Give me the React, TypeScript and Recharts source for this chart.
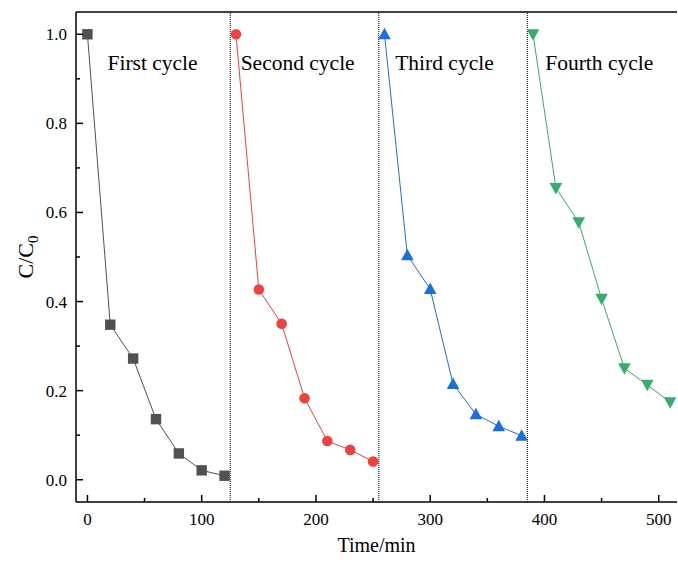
import React from 'react';
import { LineChart, Line, XAxis, YAxis, ReferenceLine, ReferenceDot } from 'recharts';

const cycle1X = [0, 20, 40, 60, 80, 100, 120];
const cycle1Y = [1.0, 0.348, 0.272, 0.136, 0.059, 0.021, 0.009];
const cycle2X = [130, 150, 170, 190, 210, 230, 250];
const cycle2Y = [1.0, 0.427, 0.35, 0.183, 0.087, 0.067, 0.041];
const cycle3X = [260, 280, 300, 320, 340, 360, 380];
const cycle3Y = [1.0, 0.504, 0.428, 0.215, 0.147, 0.12, 0.099];
const cycle4X = [390, 410, 430, 450, 470, 490, 510];
const cycle4Y = [1.0, 0.655, 0.578, 0.406, 0.25, 0.213, 0.174];

const dividerX = [125, 255, 385];
const cycleLabels = ['First cycle', 'Second cycle', 'Third cycle', 'Fourth cycle'];
const cycleLabelX = [57, 184, 312.5, 448];
const cycleLabelY = 0.92;

const xMajorTicks = [0, 100, 200, 300, 400, 500];
const xMinorTicks = [50, 150, 250, 350, 450];
const yMajorTicks = [0, 0.2, 0.4, 0.6, 0.8, 1.0];
const yMinorTicks = [0.1, 0.3, 0.5, 0.7, 0.9];

const colors = ['#515151', '#F14040', '#1A6FDF', '#37AD6B'];
const FONT = '"Liberation Serif", "Times New Roman", serif';

const zip = (xs: number[], ys: number[]) => xs.map((x, i) => ({ x, y: ys[i] }));
const series = [
  zip(cycle1X, cycle1Y),
  zip(cycle2X, cycle2Y),
  zip(cycle3X, cycle3Y),
  zip(cycle4X, cycle4Y),
];
const shapes = ['square', 'circle', 'up', 'down'];

const Marker = ({ cx, cy, shape, color }: any) => {
  if (cx == null || cy == null) return null;
  if (shape === 'square') return <rect x={cx - 5.2} y={cy - 5.2} width={10.4} height={10.4} fill={color} />;
  if (shape === 'circle') return <circle cx={cx} cy={cy} r={5.3} fill={color} />;
  if (shape === 'up')
    return <polygon points={`${cx},${cy - 6.5} ${cx - 6.3},${cy + 5} ${cx + 6.3},${cy + 5}`} fill={color} />;
  return <polygon points={`${cx},${cy + 6.5} ${cx - 6.3},${cy - 5} ${cx + 6.3},${cy - 5}`} fill={color} />;
};

const XTick = (props: any) => {
  const { x, y, payload } = props;
  const major = xMajorTicks.includes(payload.value);
  return (
    <g>
      <line x1={x} x2={x} y1={y} y2={y - (major ? 7 : 4)} stroke="#000" strokeWidth={1.5} />
      {major && (
        <text x={x} y={y + 23} textAnchor="middle" fontSize={17} fontFamily={FONT} fill="#000">
          {payload.value}
        </text>
      )}
    </g>
  );
};

const YTick = (props: any) => {
  const { x, y, payload } = props;
  const major = yMajorTicks.some((t) => Math.abs(t - payload.value) < 1e-9);
  return (
    <g>
      <line x1={x} x2={x + (major ? 7 : 4)} y1={y} y2={y} stroke="#000" strokeWidth={1.5} />
      {major && (
        <text x={x - 9} y={y + 6} textAnchor="end" fontSize={17} fontFamily={FONT} fill="#000">
          {Number(payload.value).toFixed(1)}
        </text>
      )}
    </g>
  );
};

export default function App() {
  return (
    <div style={{ position: 'absolute', left: 0, top: 0 }}>
      <LineChart width={678} height={565} margin={{ top: 12, right: 1, left: 0, bottom: 0 }}>
        <XAxis
          type="number"
          dataKey="x"
          domain={[-10, 516]}
          allowDataOverflow
          ticks={[...xMajorTicks, ...xMinorTicks].sort((a, b) => a - b)}
          tick={<XTick />}
          tickLine={false}
          tickSize={0}
          tickMargin={0}
          height={63}
          axisLine={{ stroke: '#000', strokeWidth: 1.5 }}
          interval={0}
          label={{
            content: (p: any) => {
              const vb = p.viewBox || { x: 76, y: 502, width: 601 };
              return (
                <text x={vb.x + vb.width / 2} y={vb.y + 50} textAnchor="middle" fontSize={20} fontFamily={FONT} fill="#000">
                  Time/min
                </text>
              );
            },
          }}
        />
        <YAxis
          type="number"
          dataKey="y"
          domain={[-0.05, 1.05]}
          allowDataOverflow
          ticks={[...yMajorTicks, ...yMinorTicks].sort((a, b) => a - b)}
          tick={<YTick />}
          tickLine={false}
          tickSize={0}
          tickMargin={0}
          width={76}
          interval={0}
          axisLine={{ stroke: '#000', strokeWidth: 1.5 }}
          label={{
            content: (p: any) => {
              const vb = p.viewBox || { x: 0, y: 12, width: 76, height: 490 };
              const cy = vb.y + vb.height / 2;
              return (
                <text transform={`translate(33,${cy}) rotate(-90)`} textAnchor="middle" fontSize={22} fontFamily={FONT} fill="#000">
                  C/C<tspan fontSize={15} dy={5}>0</tspan>
                </text>
              );
            },
          }}
        />
        <ReferenceLine y={1.05} stroke="#000" strokeWidth={1.5} ifOverflow="visible" />
        {dividerX.map((x) => (
          <ReferenceLine key={x} x={x} stroke="#000" strokeWidth={1} strokeDasharray="1 1" />
        ))}
        {cycleLabels.map((t, i) => (
          <ReferenceDot
            key={t}
            x={cycleLabelX[i]}
            y={cycleLabelY}
            r={0}
            shape={(p: any) => (
              <text x={p.cx} y={p.cy} textAnchor="middle" fontSize={21.5} fontFamily={FONT} fill="#000">
                {t}
              </text>
            )}
          />
        ))}
        {series.map((d, i) => (
          <Line
            key={i}
            data={d}
            dataKey="y"
            type="linear"
            stroke={colors[i]}
            strokeWidth={1}
            isAnimationActive={false}
            dot={(p: any) => <Marker key={p.index} cx={p.cx} cy={p.cy} shape={shapes[i]} color={colors[i]} />}
            activeDot={false}
          />
        ))}
      </LineChart>
    </div>
  );
}
